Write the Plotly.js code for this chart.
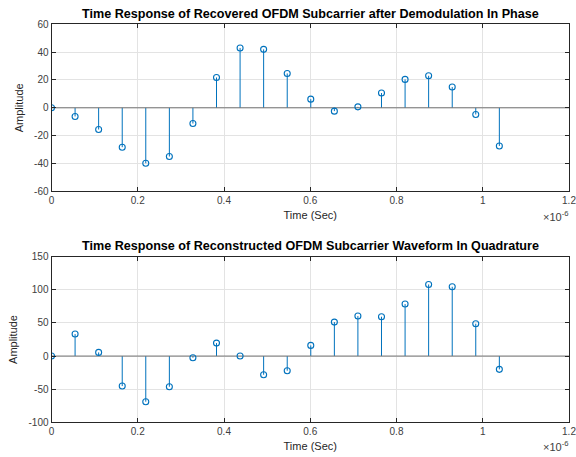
<!DOCTYPE html>
<html><head><meta charset="utf-8">
<script src="https://cdn.plot.ly/plotly-3.0.1.min.js"></script>
<style>html,body{margin:0;padding:0;background:#fff}#chart{width:576px;height:457px}</style>
</head><body><div id="chart"></div>
<script>
// time samples (x 1e-6 s)
const timeUs = [0, 0.0547, 0.1093, 0.1640, 0.2186, 0.2733, 0.3279, 0.3826, 0.4373, 0.4919,
                0.5466, 0.6012, 0.6559, 0.7105, 0.7652, 0.8199, 0.8745, 0.9292, 0.9838, 1.0385];
// In-phase recovered subcarrier amplitude
const inPhase = [0, -6.2, -15.6, -28.3, -39.8, -35.0, -11.3, 21.8, 43.0, 42.0,
                 24.7, 6.2, -2.4, 0.7, 10.6, 20.4, 23.0, 14.9, -4.8, -27.4];
// Quadrature reconstructed waveform amplitude
const quadrature = [0, 33.2, 5.5, -45.3, -68.9, -46.3, -2.5, 19.6, 0, -28.2,
                    -22.1, 16.1, 51.3, 60.4, 59.4, 78.5, 108.1, 104.6, 48.8, -20.1];
const titles = ["Time Response of Recovered OFDM Subcarrier after Demodulation In Phase",
                "Time Response of Reconstructed OFDM Subcarrier Waveform In Quadrature"];
const xTitle = "Time (Sec)";
const yTitle = "Amplitude";
const xTicks = [0, 0.2, 0.4, 0.6, 0.8, 1, 1.2];
const xTickText = ["0", "0.2", "0.4", "0.6", "0.8", "1", "1.2"];
const y1Ticks = [-60, -40, -20, 0, 20, 40, 60];
const y1TickText = ["-60", "-40", "-20", "0", "20", "40", "60"];
const y2Ticks = [-100, -50, 0, 50, 100, 150];
const y2TickText = ["-100", "-50", "0", "50", "100", "150"];

const stemColor = '#0072BD';
const font = 'Liberation Sans, Arial, sans-serif';

function stems(xs, ys, xa, ya) {
  const sx = [], sy = [];
  xs.forEach((x, i) => { sx.push(x, x, null); sy.push(0, ys[i], null); });
  return [
    {x: sx, y: sy, xaxis: xa, yaxis: ya, mode: 'lines', type: 'scatter',
     line: {color: stemColor, width: 1}, hoverinfo: 'skip', showlegend: false},
    {x: [-1, 3], y: [0, 0], xaxis: xa, yaxis: ya, mode: 'lines', type: 'scatter',
     line: {color: '#737373', width: 1}, hoverinfo: 'skip', showlegend: false},
    {x: xs, y: ys, xaxis: xa, yaxis: ya, mode: 'markers', type: 'scatter',
     marker: {symbol: 'circle-open', size: 6, color: stemColor, line: {width: 1.1, color: stemColor}},
     showlegend: false}
  ];
}

const data = [...stems(timeUs, inPhase, 'x', 'y'), ...stems(timeUs, quadrature, 'x2', 'y2')];

const axBase = {
  showline: true, mirror: 'ticks', linecolor: '#262626', linewidth: 1,
  ticks: 'inside', ticklen: 4, tickcolor: '#262626',
  showgrid: true, gridcolor: '#e3e3e3', zeroline: false,
  ticklabeloverflow: 'allow',
  tickfont: {family: font, size: 10, color: '#404040'}
};
const xDom = [51.5/576, 569/576];
function xAxis(anchor) {
  return Object.assign({}, axBase, {domain: xDom, anchor: anchor, range: [0, 1.2],
    tickmode: 'array', tickvals: xTicks, ticktext: xTickText,
    title: {text: xTitle, font: {family: font, size: 11, color: '#262626'}, standoff: 6}});
}
function yAxis(anchor, dom, rng, tv, tt) {
  return Object.assign({}, axBase, {domain: dom, anchor: anchor, range: rng,
    tickmode: 'array', tickvals: tv, ticktext: tt,
    title: {text: yTitle, font: {family: font, size: 11, color: '#262626'}, standoff: 8}});
}

const layout = {
  width: 576, height: 457,
  margin: {l: 0, r: 0, t: 0, b: 0},
  paper_bgcolor: '#ffffff', plot_bgcolor: '#ffffff',
  xaxis: xAxis('y'),
  yaxis: yAxis('x', [1 - 191.3/457, 1 - 24.3/457], [-60, 60], y1Ticks, y1TickText),
  xaxis2: xAxis('y2'),
  yaxis2: yAxis('x2', [1 - 422.3/457, 1 - 256.7/457], [-100, 150], y2Ticks, y2TickText),
  annotations: [
    {text: '<b>' + titles[0] + '</b>', xref: 'paper', yref: 'paper', x: 310/576, y: 1 - 14/457,
     showarrow: false, xanchor: 'center', yanchor: 'middle', font: {family: font, size: 12.6, color: '#000'}},
    {text: '<b>' + titles[1] + '</b>', xref: 'paper', yref: 'paper', x: 310/576, y: 1 - 246/457,
     showarrow: false, xanchor: 'center', yanchor: 'middle', font: {family: font, size: 12.6, color: '#000'}},
    {text: '×10<sup>-6</sup>', xref: 'paper', yref: 'paper', x: 571/576, y: 1 - 216/457,
     showarrow: false, xanchor: 'right', yanchor: 'middle', font: {family: font, size: 11, color: '#404040'}},
    {text: '×10<sup>-6</sup>', xref: 'paper', yref: 'paper', x: 571/576, y: 1 - 446/457,
     showarrow: false, xanchor: 'right', yanchor: 'middle', font: {family: font, size: 11, color: '#404040'}}
  ]
};

Plotly.newPlot('chart', data, layout, {staticPlot: true});
</script></body></html>
